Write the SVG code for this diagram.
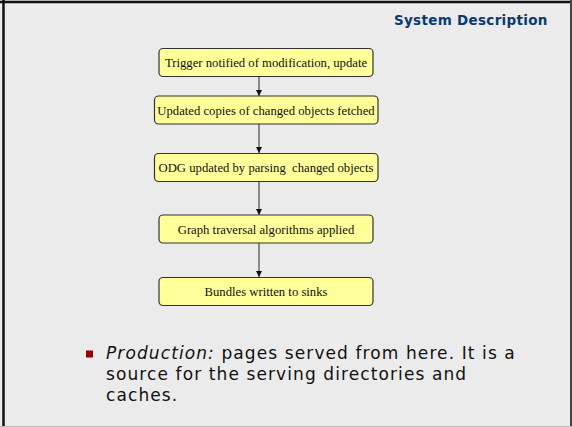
<svg xmlns="http://www.w3.org/2000/svg" width="572" height="427" viewBox="0 0 572 427">
<style>
.bg{fill:#ebebeb}
.node rect{fill:#ffff99;stroke:#333;stroke-width:1.2}
.node text{font-family:"Liberation Serif",serif;font-size:12.7px;fill:#111;text-anchor:middle}
.edge{stroke:#555;stroke-width:1.3;fill:none;marker-end:url(#ah)}
.title{font-family:"DejaVu Sans",sans-serif;font-weight:bold;font-size:13.5px;letter-spacing:0.3px;fill:#0b3a6e}
.body{font-family:"DejaVu Sans",sans-serif;font-size:17px;letter-spacing:1.1px;fill:#111}
</style>
<defs>
<marker id="ah" viewBox="0 0 8 8" refX="8" refY="4" markerWidth="6" markerHeight="6" orient="auto" markerUnits="userSpaceOnUse">
<path d="M0,0 L8,4 L0,8 z" fill="#111"/>
</marker>
</defs>
<rect class="bg" x="0" y="0" width="572" height="427"/>
<line x1="0" y1="2" x2="572" y2="2" stroke="#111" stroke-width="2.5"/>
<line x1="3.5" y1="0" x2="3.5" y2="427" stroke="#111" stroke-width="2.5"/>
<line x1="571" y1="0" x2="571" y2="427" stroke="#444" stroke-width="2"/>
<line x1="0" y1="426.5" x2="572" y2="426.5" stroke="#bbb" stroke-width="1"/>
<text class="title" x="394" y="25.3">System Description</text>
<g id="connectors">
<line class="edge" x1="259" y1="77" x2="259" y2="96"/>
<line class="edge" x1="259" y1="124" x2="259" y2="153"/>
<line class="edge" x1="259" y1="182" x2="259" y2="215"/>
<line class="edge" x1="259" y1="243" x2="259" y2="277"/>
</g>
<g id="n1" class="node"><rect x="159" y="48.5" width="214" height="28" rx="4"/><text x="266" y="67">Trigger notified of modification, update</text></g>
<g id="n2" class="node"><rect x="154.5" y="96" width="223.5" height="28" rx="4"/><text x="266" y="114.5">Updated copies of changed objects fetched</text></g>
<g id="n3" class="node"><rect x="154.5" y="153.5" width="223.5" height="28" rx="4"/><text x="266" y="172" xml:space="preserve">ODG updated by parsing  changed objects</text></g>
<g id="n4" class="node"><rect x="159" y="215" width="214" height="28" rx="4"/><text x="266" y="233.5">Graph traversal algorithms applied</text></g>
<g id="n5" class="node"><rect x="159" y="277.5" width="214" height="28" rx="4"/><text x="266" y="296">Bundles written to sinks</text></g>
<rect x="86" y="350.5" width="7" height="7" fill="#990000"/>
<text class="body" x="106" y="359"><tspan font-style="italic">Production:</tspan> pages served from here. It is a</text>
<text class="body" x="106" y="380">source for the serving directories and</text>
<text class="body" x="106" y="401">caches.</text>
</svg>
